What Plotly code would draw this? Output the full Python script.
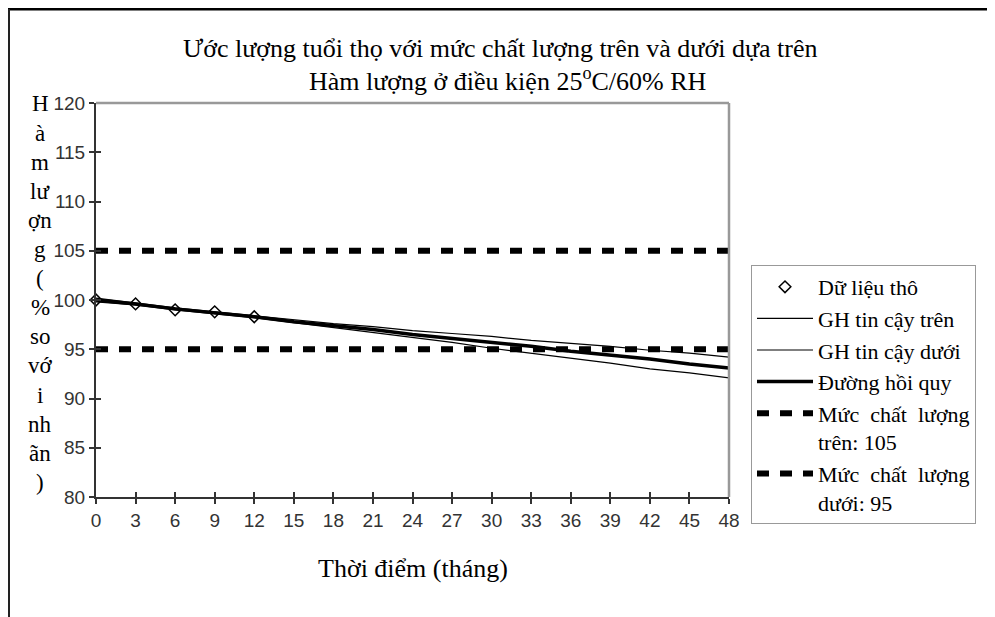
import plotly.graph_objects as go

# ---------------- data ----------------
months = [0, 3, 6, 9, 12, 15, 18, 21, 24, 27, 30, 33, 36, 39, 42, 45, 48]
raw_months = [0, 3, 6, 9, 12]
raw_values = [100.0, 99.6, 99.0, 98.8, 98.3]
regression = [100.0, 99.6, 99.1, 98.7, 98.3, 97.8, 97.4, 97.0, 96.5, 96.1, 95.7, 95.3, 94.8, 94.4, 94.0, 93.5, 93.1]
upper_ci = [100.2, 99.7, 99.2, 98.8, 98.4, 98.0, 97.6, 97.3, 96.9, 96.6, 96.3, 95.9, 95.6, 95.3, 94.9, 94.6, 94.2]
lower_ci = [99.8, 99.5, 99.0, 98.6, 98.2, 97.7, 97.2, 96.7, 96.2, 95.7, 95.1, 94.6, 94.1, 93.6, 93.0, 92.6, 92.1]
upper_spec = 105
lower_spec = 95
x_ticks = list(range(0, 49, 3))
y_ticks = list(range(80, 121, 5))

title_lines = ["Ước lượng tuổi thọ với mức chất lượng trên và dưới dựa trên",
               "Hàm lượng ở điều kiện 25<sup>o</sup>C/60% RH"]
x_title = "Thời điểm (tháng)"
y_title_lines = ["H", "à", "m", "lư", "ợn", "g", "(", "%", "so", "vớ", "i", "nh", "ãn", ")"]

# ---------------- layout geometry (page pixels) ----------------
OFF = 8                      # browser body margin
PAGE_W, PAGE_H = 995, 617
W, H = PAGE_W - OFF, PAGE_H - OFF
L, R, T, B = 96, 729, 103, 497   # plot area in page pixels
PW, PH = R - L, B - T


def px(xp):
    return (xp - L) / PW


def py(yp):
    return (B - yp) / PH


SERIF = "Liberation Serif, Times New Roman, serif"
NARROW = "Liberation Sans Narrow, Arial Narrow, Liberation Sans, sans-serif"

fig = go.Figure()

fig.add_trace(go.Scatter(x=raw_months, y=raw_values, mode="markers", name="Dữ liệu thô",
                         marker=dict(symbol="diamond-open", size=9, color="black",
                                     line=dict(width=1.5, color="black")),
                         cliponaxis=False, legendgroup="a"))
fig.add_trace(go.Scatter(x=months, y=upper_ci, mode="lines", name="GH tin cậy trên",
                         line=dict(color="black", width=1.2), legendgroup="b"))
fig.add_trace(go.Scatter(x=months, y=lower_ci, mode="lines", name="GH tin cậy dưới",
                         line=dict(color="black", width=1.2), legendgroup="c"))
fig.add_trace(go.Scatter(x=months, y=regression, mode="lines", name="Đường hồi quy",
                         line=dict(color="black", width=3.5), legendgroup="d"))
fig.add_trace(go.Scatter(x=[months[0], months[-1]], y=[upper_spec, upper_spec], mode="lines",
                         name="Mức  chất  lượng<br>trên: 105",
                         line=dict(color="black", width=6, dash="12px,11px"), legendgroup="e"))
fig.add_trace(go.Scatter(x=[months[0], months[-1]], y=[lower_spec, lower_spec], mode="lines",
                         name="Mức  chất  lượng<br>dưới: 95",
                         line=dict(color="black", width=6, dash="12px,11px"), legendgroup="f"))
# dummy trace to activate overlay axes (inside half of the crossing tick marks)
fig.add_trace(go.Scatter(x=[None], y=[None], xaxis="x2", yaxis="y2", showlegend=False,
                         hoverinfo="skip"))

axis_col = "#333333"
fig.update_layout(
    width=W, height=H,
    font=dict(family=SERIF, size=22, color="black"),
    margin=dict(l=L - OFF, r=PAGE_W - R, t=T - OFF, b=PAGE_H - B, pad=0),
    paper_bgcolor="white", plot_bgcolor="white",
    showlegend=True,
    legend=dict(x=px(751), y=py(265), xanchor="left", yanchor="top",
                font=dict(family=SERIF, size=22, color="black"),
                bordercolor="#999999", borderwidth=1, bgcolor="white",
                tracegroupgap=0, valign="top", itemwidth=56, traceorder="grouped"),
    xaxis=dict(range=[0, 48], tickvals=x_ticks, ticks="outside", ticklen=5, tickwidth=1.5,
               tickcolor=axis_col, showline=True, linecolor=axis_col, linewidth=2,
               showgrid=False, zeroline=False,
               tickfont=dict(family=NARROW, size=19, color=axis_col)),
    yaxis=dict(range=[80, 120], tickvals=y_ticks, ticks="outside", ticklen=5, tickwidth=1.5,
               tickcolor=axis_col, showline=True, linecolor=axis_col, linewidth=2,
               showgrid=False, zeroline=False,
               tickfont=dict(family=NARROW, size=19, color=axis_col)),
    xaxis2=dict(range=[0, 48], tickvals=x_ticks, ticks="inside", ticklen=5, tickwidth=1.5,
                tickcolor=axis_col, showticklabels=False, showline=False, showgrid=False,
                zeroline=False, overlaying="x", anchor="y2"),
    yaxis2=dict(range=[80, 120], tickvals=y_ticks, ticks="inside", ticklen=5, tickwidth=1.5,
                tickcolor=axis_col, showticklabels=False, showline=False, showgrid=False,
                zeroline=False, overlaying="y", anchor="x2"),
)


def text_at(text, xp, yp, size):
    fig.add_annotation(text=text, x=px(xp), y=py(yp), xref="paper", yref="paper",
                       xanchor="center", yanchor="middle", showarrow=False,
                       font=dict(family=SERIF, size=size, color="black"))


# title lines
text_at(title_lines[0], 500, 48, 26)
text_at(title_lines[1], 508, 79, 26)

# x-axis title
text_at(x_title, 413, 568, 26)

# stacked y-axis title
for i, t in enumerate(y_title_lines):
    text_at(t, 40, 104 + i * 29.1, 23)

# gray top/right frame of plot area
fig.add_shape(type="line", xref="paper", yref="paper", x0=0, x1=1, y0=1, y1=1,
              line=dict(color="#999999", width=2.5))
fig.add_shape(type="line", xref="paper", yref="paper", x0=1, x1=1, y0=0, y1=1,
              line=dict(color="#999999", width=2.5))
# outer frame (top and left)
fig.add_shape(type="line", xref="paper", yref="paper", x0=px(8), x1=px(995), y0=py(9), y1=py(9),
              line=dict(color="black", width=3))
fig.add_shape(type="line", xref="paper", yref="paper", x0=px(9), x1=px(9), y0=py(9), y1=py(617),
              line=dict(color="#222222", width=2))

fig.write_html("out.html")
